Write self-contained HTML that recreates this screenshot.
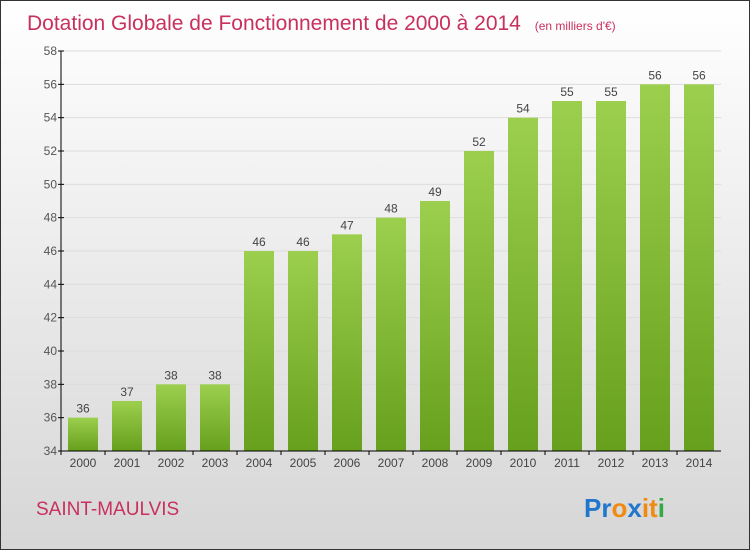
<!DOCTYPE html>
<html><head><meta charset="utf-8"><style>
body{margin:0}
#c{width:748px;height:548px;border:1px solid #333;background:linear-gradient(#ffffff,#d6d6d6);position:relative;font-family:"Liberation Sans",sans-serif}
</style></head><body>
<div id="c">
<svg width="748" height="548" style="position:absolute;left:0;top:0" id="svg">
<defs><linearGradient id="g" x1="0" y1="0" x2="0" y2="1"><stop offset="0" stop-color="#9ccf4e"/><stop offset="1" stop-color="#66a01c"/></linearGradient></defs>
<text x="26" y="29" font-size="21" fill="#c8305e">Dotation Globale de Fonctionnement de 2000 à 2014 <tspan font-size="12" dx="8">(en milliers d'€)</tspan></text>
<text x="35" y="514" font-size="19" fill="#c8305e">SAINT-MAULVIS</text>
<text x="583" y="516" font-size="26" font-weight="bold"><tspan fill="#2277cc">Pr</tspan><tspan fill="#f08a10">o</tspan><tspan fill="#2277cc">x</tspan><tspan fill="#f08a10">it</tspan><tspan fill="#33aa44">i</tspan></text>
<g id="plot"></g>
</svg></div>
<script>
const categories=["2000","2001","2002","2003","2004","2005","2006","2007","2008","2009","2010","2011","2012","2013","2014"];
const values=[36,37,38,38,46,46,47,48,49,52,54,55,55,56,56];
const yTicks=[34,36,38,40,42,44,46,48,50,52,54,56,58];
const NS="http://www.w3.org/2000/svg";
const g=document.getElementById('plot');
const X0=60,X1=720,Y0=450,Y1=50,ymin=34,ymax=58;
const band=(X1-X0)/categories.length;
const y=v=>Y0-(v-ymin)/(ymax-ymin)*(Y0-Y1);
const x=i=>X0+i*band;
function mk(t,a){const e=document.createElementNS(NS,t);for(const k in a)e.setAttribute(k,a[k]);g.appendChild(e);return e;}
yTicks.forEach(v=>{
 const l=mk('line',{x1:X0,x2:X1,y1:y(v),y2:y(v),stroke:'#dddddd','stroke-width':1});
 
 
 const tk=mk('line',{x1:X0-3,x2:X0+3,y1:y(v),y2:y(v),stroke:'#000'});
 
 
 const t=mk('text',{x:X0-4,y:y(v)+4,'text-anchor':'end','font-size':12,fill:'#555'});
 t.textContent=v;
 
 
});
values.forEach((v,i)=>{
 const r=mk('rect',{x:x(i)+7,y:y(v),width:30,height:Y0-y(v),fill:'url(#g)'});
 
 
 const t=mk('text',{x:x(i)+22,y:y(v)-5,'text-anchor':'middle','font-size':12,fill:'#444'});
 t.textContent=v;
 
 
 const c=mk('text',{x:x(i)+22,y:Y0+16,'text-anchor':'middle','font-size':12,fill:'#444'});
 c.textContent=categories[i];
 
 
 const tk=mk('line',{x1:x(i),x2:x(i),y1:Y0,y2:Y0+4,stroke:'#000'});
 
 
});
const ya=mk('line',{x1:X0,x2:X0,y1:Y1,y2:Y0,stroke:'#000'});


const xa=mk('line',{x1:X0,x2:X1,y1:Y0,y2:Y0,stroke:'#000'});


</script>
</body></html>
